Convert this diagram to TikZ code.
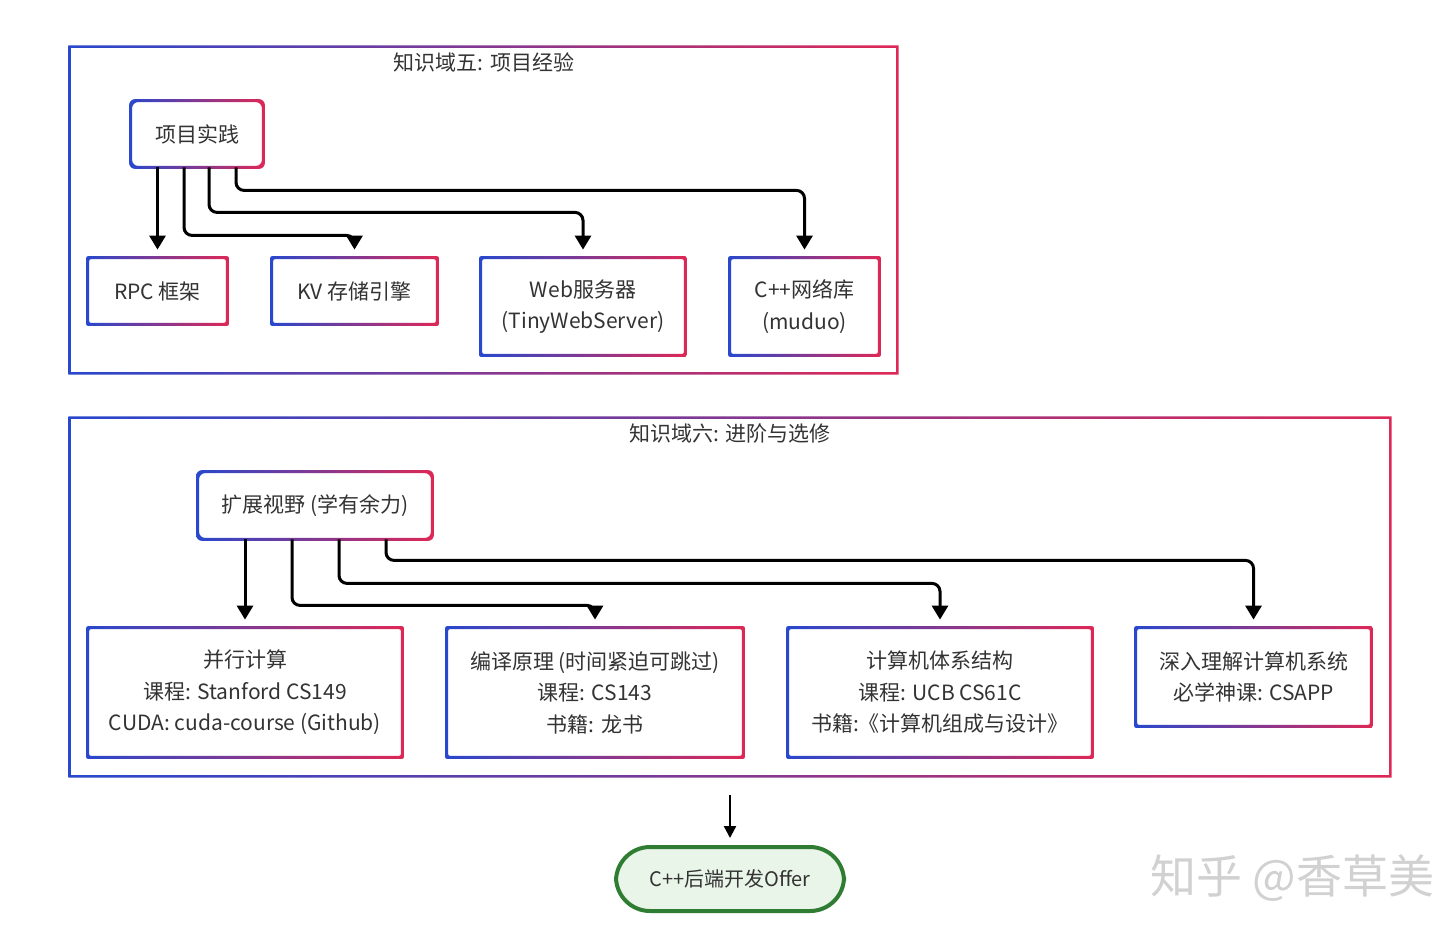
\documentclass[tikz,border=0pt]{standalone}
\usepackage{fontspec}
\setmainfont{Noto Sans CJK SC}
\usetikzlibrary{arrows.meta,calc,shadows}
\definecolor{gblue}{RGB}{40,72,205}
\definecolor{gred}{RGB}{222,40,86}
\definecolor{txt}{RGB}{51,51,51}
\definecolor{okgreen}{RGB}{46,125,50}
\definecolor{okfill}{RGB}{234,245,233}
\newcommand\gring[3][1pt]{%
  \shade[left color=gblue,right color=gred,even odd rule,rounded corners=#1]
   ([xshift=-#3,yshift=-#3]#2.south west) rectangle ([xshift=#3,yshift=#3]#2.north east)
   ([xshift=#3,yshift=#3]#2.south west) rectangle ([xshift=-#3,yshift=-#3]#2.north east);}
\begin{document}
\begin{tikzpicture}[x=0.5pt,y=-0.5pt,
  box/.style={rectangle,fill=white,inner sep=0pt,align=center,text=txt,
    font=\fontsize{10.5}{15.75}\selectfont},
  frame/.style={rectangle,fill=white,inner sep=0pt},
  conn/.style={line width=1.5pt,rounded corners=4pt,
    -{Triangle[width=8pt,length=7pt]},shorten >=4pt},
  ttl/.style={text=txt,font=\fontsize{10.5}{12}\selectfont,inner sep=0pt},
]
\useasboundingbox (0,0) rectangle (1455,928);
\clip (0,0) rectangle (1455,928);
\fill[white] (0,0) rectangle (1455,928);

% ---------- container 1 ----------
\node[frame,minimum width=413.5pt,minimum height=163pt] (c1) at (483.5,210) {};
\gring[0pt]{c1}{0.6pt}
\node[ttl] (t1) at (484,62) {知识域五: 项目经验};

\node[box,rounded corners=3pt,minimum width=66pt,minimum height=33pt] (proj) at (197,134) {项目实践};
\gring[3pt]{proj}{0.75pt}
\node[box,minimum width=69.5pt,minimum height=33pt] (rpc) at (157.5,291) {RPC 框架};
\gring{rpc}{0.75pt}
\node[box,minimum width=82.5pt,minimum height=33pt] (kv) at (354.5,291) {KV 存储引擎};
\gring{kv}{0.75pt}
\node[box,minimum width=102pt,minimum height=48.5pt] (web) at (583,306.5) {Web服务器\\(TinyWebServer)};
\gring{web}{0.75pt}
\node[box,minimum width=74.5pt,minimum height=48.5pt] (cpp) at (804.5,306.5) {C++网络库\\(muduo)};
\gring{cpp}{0.75pt}

\draw[conn] (proj.south -| rpc.north) -- (rpc.north);
\draw[conn] ($(proj.south)+(-13,0)$) -- ++(0,68) -| (kv.north);
\draw[conn] ($(proj.south)+(12,0)$) -- ++(0,45) -| (web.north);
\draw[conn] ($(proj.south)+(39,0)$) -- ++(0,23) -| (cpp.north);

% ---------- container 2 ----------
\node[frame,minimum width=660pt,minimum height=179pt] (c2) at (730,597) {};
\gring[0pt]{c2}{0.6pt}
\node[ttl] (t2) at (730,433) {知识域六: 进阶与选修};

\node[box,rounded corners=3pt,minimum width=117pt,minimum height=33.5pt] (ext) at (315,505.5) {扩展视野 (学有余力)};
\gring[3pt]{ext}{0.75pt}
\node[box,minimum width=157pt,minimum height=64.5pt] (par) at (245,692.5) {并行计算\\课程: Stanford CS149\\CUDA: cuda-course (Github)};
\gring{par}{0.75pt}
\node[box,minimum width=148pt,minimum height=64.5pt] (cmp) at (595,692.5) {编译原理 (时间紧迫可跳过)\\课程: CS143\\书籍: 龙书};
\gring{cmp}{0.75pt}
\node[box,minimum width=152pt,minimum height=64.5pt] (arch) at (940,692.5) {计算机体系结构\\课程: UCB CS61C\\书籍:《计算机组成与设计》};
\gring{arch}{0.75pt}
\node[box,minimum width=117.5pt,minimum height=49pt] (csapp) at (1253.5,677) {深入理解计算机系统\\必学神课: CSAPP};
\gring{csapp}{0.75pt}

\draw[conn] (ext.south -| par.north) -- (par.north);
\draw[conn] ($(ext.south)+(-23,0)$) -- ++(0,66) -| (cmp.north);
\draw[conn] ($(ext.south)+(24,0)$) -- ++(0,44) -| (arch.north);
\draw[conn] ($(ext.south)+(71,0)$) -- ++(0,21) -| (csapp.north);

% ---------- final ----------
\node[rectangle,rounded corners=17pt,draw=okgreen,line width=2pt,fill=okfill,
  minimum width=114pt,minimum height=32pt,inner sep=0pt,text=txt,
  font=\fontsize{10}{12}\selectfont,
  drop shadow={opacity=0.2,shadow xshift=0.8pt,shadow yshift=-0.8pt}]
  (offer) at (730,879) {C++后端开发Offer};
\draw[line width=1.1pt,-{Triangle[width=6pt,length=6pt]},shorten <=9.5pt,shorten >=3.5pt]
  (c2.south) -- (offer.north);

% ---------- watermark ----------
\node[anchor=west,text=black!18,font=\fontsize{23}{28}\selectfont,inner sep=0pt]
  (wm) at (1150,878) {知乎 @香草美};
\end{tikzpicture}
\end{document}
